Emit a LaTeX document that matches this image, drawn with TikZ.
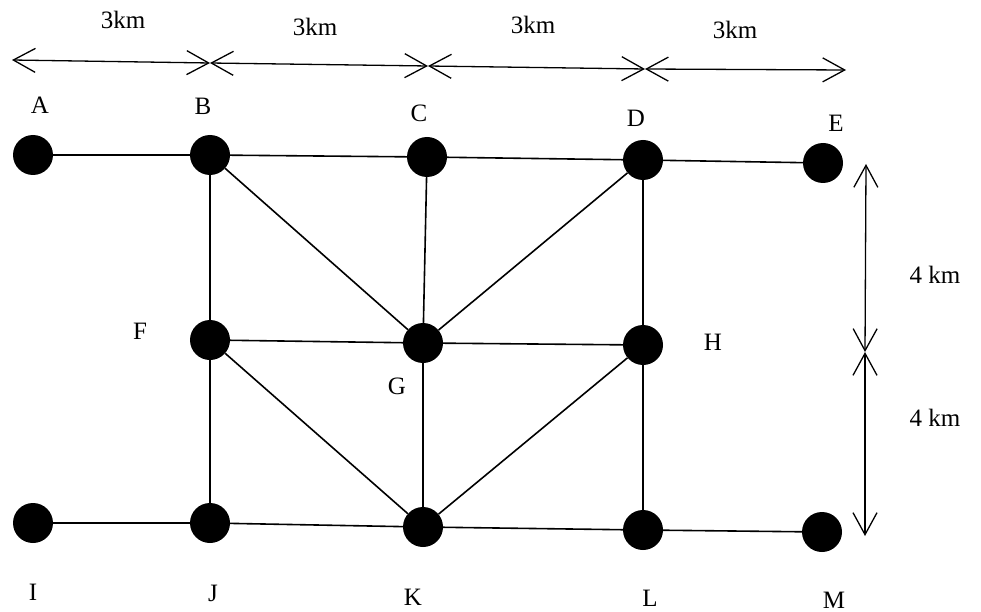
\documentclass[tikz,border=0pt]{standalone}
\usepackage{fontspec}
\setmainfont{Liberation Serif}
\usetikzlibrary{arrows.meta}
\tikzset{
  station/.style={circle,fill=black,minimum size=40pt,inner sep=0pt},
  lbl/.style={font=\fontsize{25}{30}\selectfont,inner sep=0pt},
  dimarrow/.style={line width=1.3pt,{Straight Barb[length=22pt,width=24pt,line width=1.3pt]}-{Straight Barb[length=22pt,width=24pt,line width=1.3pt]}},
  link/.style={line width=1.6pt}
}
\begin{document}
\begin{tikzpicture}[x=1pt,y=-1pt]
  \useasboundingbox[fill=white] (0,0) rectangle (981,612);
  % Stations
  \node[station] (A) at (33,155) {};
  \node[station] (B) at (210,155) {};
  \node[station] (C) at (427,157) {};
  \node[station] (D) at (643,160) {};
  \node[station] (E) at (823,163) {};
  \node[station] (F) at (210,340) {};
  \node[station] (G) at (423,343) {};
  \node[station] (H) at (643,345) {};
  \node[station] (I) at (33,523) {};
  \node[station] (J) at (210,523) {};
  \node[station] (K) at (423,527) {};
  \node[station] (L) at (643,530) {};
  \node[station] (M) at (822,532) {};
  % Station names
  \node[lbl] (nA) at (40,105) {A};
  \node[lbl] (nB) at (203,106) {B};
  \node[lbl] (nC) at (419,113) {C};
  \node[lbl] (nD) at (636,118) {D};
  \node[lbl] (nE) at (836,123) {E};
  \node[lbl] (nF) at (140,331) {F};
  \node[lbl] (nG) at (397,386) {G};
  \node[lbl] (nH) at (713,342) {H};
  \node[lbl] (nI) at (33,592) {I};
  \node[lbl] (nJ) at (213,593) {J};
  \node[lbl] (nK) at (413,597) {K};
  \node[lbl] (nL) at (650,598) {L};
  \node[lbl] (nM) at (834,600) {M};
  % Links
  \draw[link] (A) -- (B) -- (C) -- (D) -- (E);
  \draw[link] (I) -- (J) -- (K) -- (L) -- (M);
  \draw[link] (B) -- (F) -- (J);
  \draw[link] (C) -- (G) -- (K);
  \draw[link] (D) -- (H) -- (L);
  \draw[link] (F) -- (G) -- (H);
  \draw[link] (B) -- (G) -- (D);
  \draw[link] (F) -- (K) -- (H);
  % Distances along the top
  \coordinate (t0) at (12,60);
  \coordinate (t1) at (210,63);
  \coordinate (t2) at (428,66);
  \coordinate (t3) at (645,69);
  \coordinate (t4) at (846,70);
  \draw[dimarrow] (t0) -- (t1);
  \draw[dimarrow] (t1) -- (t2);
  \draw[dimarrow] (t2) -- (t3);
  \draw[dimarrow] (t3) -- (t4);
  \node[lbl] (d1) at (123,20) {3km};
  \node[lbl] (d2) at (315,27) {3km};
  \node[lbl] (d3) at (533,25) {3km};
  \node[lbl] (d4) at (735,30) {3km};
  % Distances on the right
  \coordinate (v0) at (866,164);
  \coordinate (v1) at (865,352);
  \coordinate (v2) at (865,536);
  \draw[dimarrow] (v0) -- (v1);
  \draw[dimarrow] (v1) -- (v2);
  \node[lbl] (h1) at (935,275) {4 km};
  \node[lbl] (h2) at (935,418) {4 km};
\end{tikzpicture}
\end{document}
